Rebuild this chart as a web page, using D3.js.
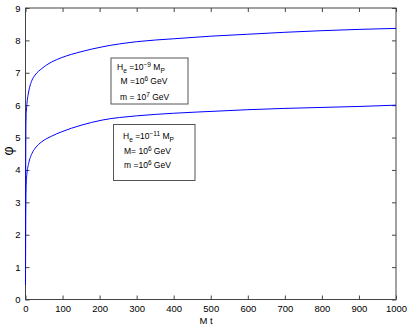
<!DOCTYPE html>
<html>
<head>
<meta charset="utf-8">
<script src="https://cdn.jsdelivr.net/npm/d3@7"></script>
<style>
  body { margin: 0; background: #fff; }
  text { font-family: "Liberation Sans", Arial, sans-serif; fill: #000; }
</style>
</head>
<body>
<svg id="chart" width="409" height="328"></svg>
<script>
// values
var xTicks = [0, 100, 200, 300, 400, 500, 600, 700, 800, 900, 1000];
var yTicks = [0, 1, 2, 3, 4, 5, 6, 7, 8, 9];

var upperT   = [0, 0.3, 0.8, 1.4, 2.5, 4, 8.5, 17.5, 26, 44, 70, 98, 150, 207, 300, 400, 500, 600, 700, 800, 900, 1000];
var upperPhi = [0.45, 3.0, 4.8, 5.54, 5.85, 6.06, 6.41, 6.77, 6.93, 7.13, 7.33, 7.47, 7.65, 7.80, 7.96, 8.05, 8.13, 8.19, 8.25, 8.3, 8.34, 8.37];

var lowerT   = [0, 0.5, 1.2, 2.5, 4, 8.5, 17.5, 26, 44, 70, 98, 150, 207, 300, 400, 525, 600, 700, 800, 900, 1000];
var lowerPhi = [0.45, 2.4, 3.3, 3.7, 3.9, 4.2, 4.51, 4.67, 4.87, 5.04, 5.18, 5.38, 5.54, 5.67, 5.75, 5.82, 5.86, 5.9, 5.93, 5.96, 6.0];

var svg = d3.select("#chart");

// plot box (window.top is reserved, so different names)
var pLeft = 25.5, pRight = 396, pTop = 8, pBottom = 299.5;

var x = d3.scaleLinear().domain([0, 1000]).range([pLeft, pRight]);
var y = d3.scaleLinear().domain([0, 9]).range([pBottom, pTop]);

//frame
svg.append("rect")
   .attr("x", pLeft).attr("y", pTop)
   .attr("width", pRight - pLeft).attr("height", pBottom - pTop)
   .attr("fill", "none").attr("stroke", "#444").attr("stroke-width", 1);

// ticks pointing inward, on all four sides
var tk = 4;
svg.append("g")
   .attr("transform", "translate(0," + pBottom + ")")
   .call(d3.axisBottom(x).tickValues(xTicks).tickFormat(d3.format("d")).tickSizeInner(-tk).tickSizeOuter(0).tickPadding(6))
   .call(function(g) {
       g.select(".domain").remove();
       g.selectAll("line").attr("stroke", "#444");
       g.selectAll("text").attr("font-size", 9.5).attr("font-family", null);
   });
svg.append("g")
   .attr("transform", "translate(0," + pTop + ")")
   .call(d3.axisTop(x).tickValues(xTicks).tickSizeInner(-tk).tickSizeOuter(0).tickFormat(""))
   .call(function(g) {
       g.select(".domain").remove();
       g.selectAll("line").attr("stroke", "#444");
   });
svg.append("g")
   .attr("transform", "translate(" + pLeft + ",0)")
   .call(d3.axisLeft(y).tickValues(yTicks).tickSizeInner(-tk).tickSizeOuter(0).tickPadding(5))
   .call(function(g) {
       g.select(".domain").remove();
       g.selectAll("line").attr("stroke", "#444");
       g.selectAll("text").attr("font-size", 9.5).attr("font-family", null);
   });
svg.append("g")
   .attr("transform", "translate(" + pRight + ",0)")
   .call(d3.axisRight(y).tickValues(yTicks).tickSizeInner(-tk).tickSizeOuter(0).tickFormat(""))
   .call(function(g) {
       g.select(".domain").remove();
       g.selectAll("line").attr("stroke", "#444");
   });

// curves
var line = d3.line()
    .x(function(d) { return x(d[0]); })
    .y(function(d) { return y(d[1]); })
    .curve(d3.curveMonotoneX);

[[upperT, upperPhi], [lowerT, lowerPhi]].forEach(function(s) {
    svg.append("path")
       .datum(d3.zip(s[0], s[1]))
       .attr("fill", "none")
       .attr("stroke", "#0000ff")
       .attr("stroke-width", 1)
       .attr("d", line);
});

// axis labels
svg.append("text")
   .attr("x", 206).attr("y", 324)
   .attr("text-anchor", "middle")
   .attr("font-size", 9.5)
   .text("M t");

svg.append("text")
   .attr("transform", "translate(13,151) rotate(-90)")
   .attr("text-anchor", "middle")
   .attr("font-size", 14)
   .text("φ");

// annotation boxes
function noteBox(bx, by, bw, bh, lines) {
    svg.append("rect")
       .attr("x", bx).attr("y", by).attr("width", bw).attr("height", bh)
       .attr("fill", "#fff").attr("stroke", "#555").attr("stroke-width", 1);
    lines.forEach(function(l) {
        var t = svg.append("text")
                   .attr("x", l.x).attr("y", l.y)
                   .attr("font-size", 8.5);
        l.parts.forEach(function(p) {
            var ts = t.append("tspan").text(p[0]);
            if (p[1] == "sup") ts.attr("dy", -3.5).attr("font-size", 6.5);
            else if (p[1] == "sub") ts.attr("dy", 2.5).attr("font-size", 6.5);
            if (p[2]) ts.attr("dy", p[2]);
        });
    });
}

noteBox(111, 58, 77, 46, [
    {x: 117, y: 70, parts: [["H"], ["e", "sub"], [" =10", null, -2.5], ["−9", "sup"], [" M", null, 3.5], ["P", "sub"]]},
    {x: 120.5, y: 84, parts: [["M =10"], ["6", "sup"], [" GeV", null, 3.5]]},
    {x: 120, y: 100, parts: [["m = 10"], ["7", "sup"], [" GeV", null, 3.5]]}
]);

noteBox(113.5, 124.5, 81.5, 56, [
    {x: 123, y: 139, parts: [["H"], ["e", "sub"], [" =10", null, -2.5], ["−11", "sup"], [" M", null, 3.5], ["P", "sub"]]},
    {x: 124, y: 154, parts: [["M= 10"], ["6", "sup"], [" GeV", null, 3.5]]},
    {x: 124, y: 168, parts: [["m =10"], ["6", "sup"], [" GeV", null, 3.5]]}
]);
</script>
</body>
</html>
